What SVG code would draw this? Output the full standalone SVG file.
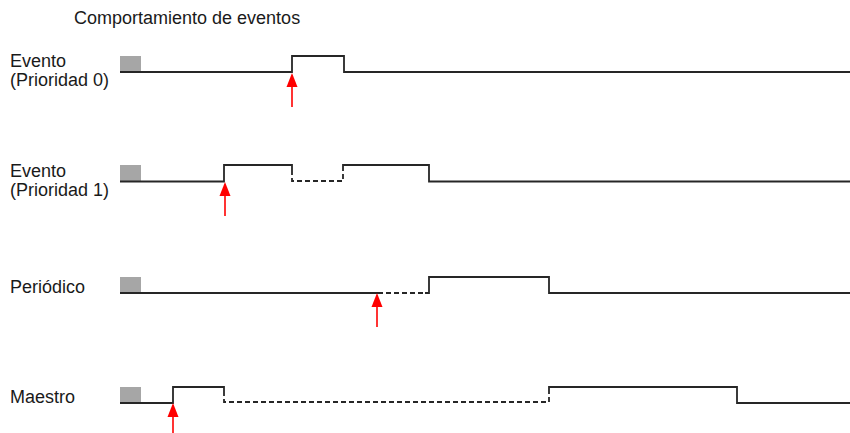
<svg xmlns="http://www.w3.org/2000/svg" width="850" height="433" viewBox="0 0 850 433">
  <defs>
    <style>
      .lbl { font-family: "Liberation Sans", Arial, sans-serif; font-size: 18px; fill: #1a1a1a; }
      .title { font-family: "Liberation Sans", Arial, sans-serif; font-size: 18px; fill: #1a1a1a; }
      .sig { fill: none; stroke: #262626; stroke-width: 1.8; stroke-linejoin: miter; stroke-linecap: butt; }
      .dash { fill: none; stroke: #262626; stroke-width: 1.8; stroke-dasharray: 5 3; }
      .blk { fill: #a6a6a6; }
      .trig { stroke: #ff0000; stroke-width: 1.6; fill: none; }
      .head { fill: #ff0000; }
    </style>
    <!-- upward trigger arrow, tip at origin -->
    <g id="trigger">
      <line class="trig" x1="0" y1="10" x2="0" y2="34"/>
      <polygon class="head" points="0,0 -5.5,14 5.5,14"/>
    </g>
  </defs>

  <rect width="850" height="433" fill="#ffffff"/>

  <text class="title" x="74" y="24">Comportamiento de eventos</text>

  <!-- Evento (Prioridad 0) -->
  <g id="evento-p0">
    <text class="lbl" x="10" y="66.5">Evento</text>
    <text class="lbl" x="10" y="86">(Prioridad 0)</text>
    <rect class="blk" x="120" y="56" width="21" height="16"/>
    <path class="sig" d="M120,72 H292 V56 H344 V72 H850"/>
    <use href="#trigger" x="292" y="73"/>
  </g>

  <!-- Evento (Prioridad 1) -->
  <g id="evento-p1">
    <text class="lbl" x="10" y="176.5">Evento</text>
    <text class="lbl" x="10" y="196">(Prioridad 1)</text>
    <rect class="blk" x="120" y="165" width="21" height="16"/>
    <path class="sig" d="M120,181.5 H224 V165 H292 V170"/>
    <path class="dash" d="M292,170 V181 H343 V170"/>
    <path class="sig" d="M343,170 V165 H429 V181.5 H850"/>
    <use href="#trigger" x="225" y="182"/>
  </g>

  <!-- Periódico -->
  <g id="periodico">
    <text class="lbl" x="10" y="292.5">Periódico</text>
    <rect class="blk" x="120" y="277" width="21" height="16"/>
    <path class="sig" d="M120,293 H378"/>
    <path class="dash" d="M378,293 H425"/>
    <path class="sig" d="M425,293 H429 V277 H549 V293 H850"/>
    <use href="#trigger" x="377" y="293"/>
  </g>

  <!-- Maestro -->
  <g id="maestro">
    <text class="lbl" x="10" y="402.5">Maestro</text>
    <rect class="blk" x="120" y="387" width="21" height="16"/>
    <path class="sig" d="M120,403 H173 V387 H224 V391"/>
    <path class="dash" d="M224,391 V402 H549 V392"/>
    <path class="sig" d="M549,392 V387 H737 V403 H850"/>
    <use href="#trigger" x="173" y="403"/>
  </g>
</svg>
